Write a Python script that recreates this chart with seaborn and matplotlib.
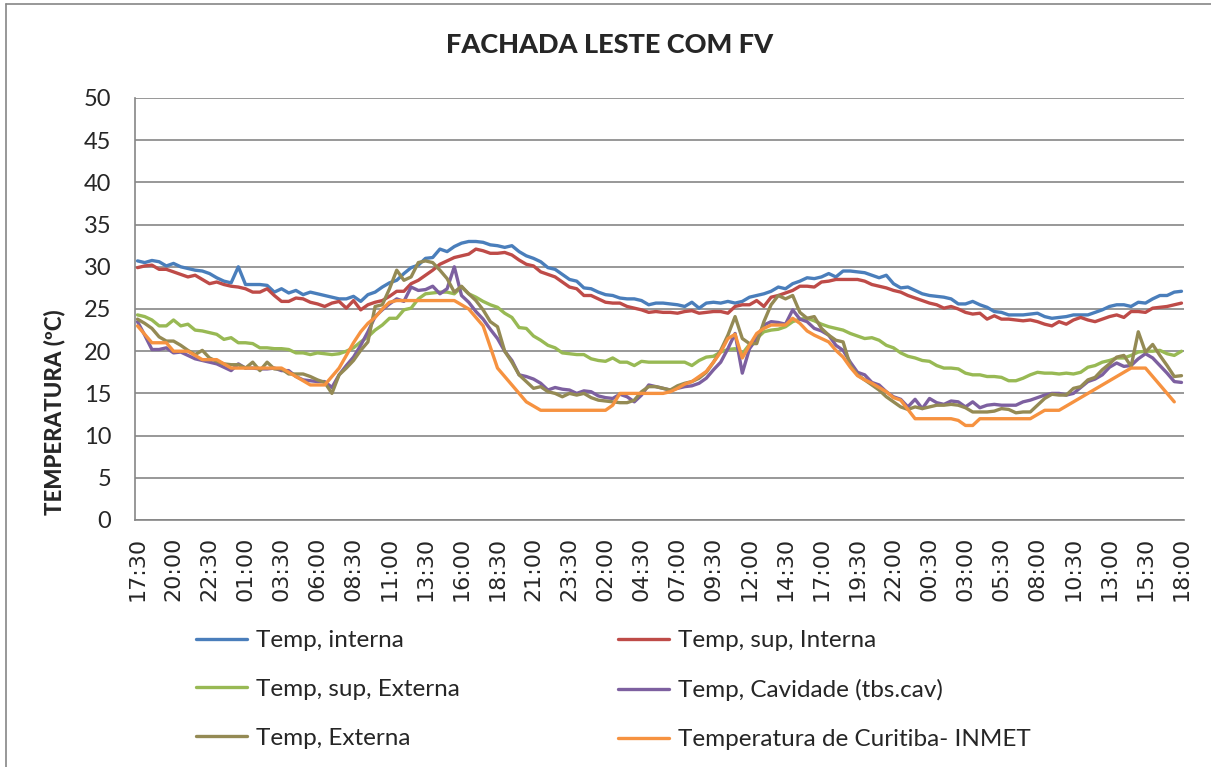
import numpy as np
import pandas as pd
import matplotlib
matplotlib.use('Agg')
import matplotlib.pyplot as plt
import seaborn as sns
from matplotlib.lines import Line2D

# Tick labels (one every 5 half-hour samples)
tick_labels = ['17:30', '20:00', '22:30', '01:00', '03:30', '06:00', '08:30', '11:00', '13:30', '16:00',
               '18:30', '21:00', '23:30', '02:00', '04:30', '07:00', '09:30', '12:00', '14:30', '17:00',
               '19:30', '22:00', '00:30', '03:00', '05:30', '08:00', '10:30', '13:00', '15:30', '18:00']

series_names = ['Temp, interna', 'Temp, sup, Interna', 'Temp, sup, Externa',
                'Temp, Cavidade (tbs.cav)', 'Temp, Externa', 'Temperatura de Curitiba- INMET']

temp_interna = [30.7, 30.5, 30.75, 30.6, 30.1, 30.4, 30.0, 29.8, 29.6, 29.5, 29.2, 28.7, 28.3, 28.1, 30.0, 27.9,
                27.9, 27.9, 27.8, 27.0, 27.4, 26.9, 27.2, 26.7, 27.0, 26.8,
                26.6, 26.4, 26.2, 26.2, 26.5, 25.9, 26.7, 27.0, 27.6, 28.1, 28.4, 29.2, 29.9, 30.2, 31.0, 31.1,
                32.1, 31.8, 32.4, 32.8, 33.0, 33.0, 32.9,
                32.6, 32.5, 32.3, 32.5, 31.8, 31.3, 31.0, 30.6, 29.9, 29.7, 29.1, 28.5, 28.3, 27.5, 27.4, 27.0,
                26.7, 26.6, 26.3, 26.2, 26.2, 26.0, 25.5, 25.7,
                25.7, 25.6, 25.5, 25.3, 25.8, 25.1, 25.7, 25.8, 25.7, 25.9, 25.7, 25.9, 26.4, 26.6, 26.8, 27.1,
                27.6, 27.4, 28.0, 28.3, 28.7, 28.6, 28.8, 29.2,
                28.8, 29.5, 29.5, 29.4, 29.3, 29.0, 28.7, 29.0, 28.0, 27.5, 27.6, 27.2, 26.8, 26.6, 26.5, 26.4,
                26.2, 25.6, 25.6, 25.9, 25.5, 25.2, 24.7, 24.6,
                24.3, 24.3, 24.3, 24.4, 24.5, 24.1, 23.9, 24.0, 24.1, 24.3, 24.3, 24.3, 24.6, 24.9, 25.3, 25.5,
                25.5, 25.3, 25.8, 25.7, 26.2, 26.6, 26.6, 27.0, 27.1]

temp_sup_interna = [29.9, 30.1, 30.2, 29.7, 29.7, 29.4, 29.1, 28.8, 29.0, 28.5, 28.0, 28.2, 27.9, 27.7, 27.6, 27.4,
                    27.0, 27.0, 27.4, 26.6, 25.9, 25.9, 26.3, 26.2, 25.8, 25.6,
                    25.3, 25.7, 25.9, 25.1, 26.0, 24.9, 25.5, 25.8, 26.0, 26.5, 27.1, 27.1, 28.0, 28.4, 29.0, 29.6,
                    30.3, 30.7, 31.1, 31.3, 31.5, 32.1, 31.9,
                    31.6, 31.6, 31.7, 31.4, 30.8, 30.3, 30.1, 29.4, 29.1, 28.8, 28.2, 27.6, 27.4, 26.6, 26.6, 26.2,
                    25.8, 25.7, 25.7, 25.3, 25.1, 24.9, 24.6, 24.7,
                    24.6, 24.6, 24.5, 24.7, 24.8, 24.5, 24.6, 24.7, 24.7, 24.5, 25.3, 25.5, 25.5, 26.0, 25.3, 26.4,
                    26.6, 26.9, 27.2, 27.7, 27.7, 27.6, 28.2, 28.3,
                    28.5, 28.5, 28.5, 28.5, 28.3, 27.9, 27.7, 27.5, 27.2, 27.0, 26.6, 26.3, 26.0, 25.7, 25.5, 25.1,
                    25.3, 25.0, 24.6, 24.4, 24.5, 23.8, 24.2, 23.8,
                    23.8, 23.7, 23.6, 23.7, 23.5, 23.2, 23.0, 23.5, 23.2, 23.7, 24.0, 23.7, 23.5, 23.8, 24.1, 24.3,
                    24.0, 24.7, 24.7, 24.6, 25.1, 25.2, 25.3, 25.5, 25.7]

temp_sup_externa = [24.3, 24.1, 23.7, 23.0, 23.0, 23.7, 23.0, 23.2, 22.5, 22.4, 22.2, 22.0, 21.4, 21.6, 21.0, 21.0,
                    20.9, 20.4, 20.4, 20.3, 20.3, 20.2, 19.8, 19.8, 19.6, 19.8,
                    19.7, 19.6, 19.7, 20.0, 20.4, 21.1, 21.7, 22.5, 23.1, 23.9, 23.9, 24.9, 25.1, 26.2, 26.8, 26.9,
                    27.0, 27.0, 26.8, 27.6, 26.8, 26.4, 25.9,
                    25.5, 25.2, 24.5, 24.0, 22.8, 22.7, 21.8, 21.3, 20.7, 20.4, 19.8, 19.7, 19.6, 19.6, 19.1, 18.9,
                    18.8, 19.2, 18.7, 18.7, 18.3, 18.8, 18.7, 18.7,
                    18.7, 18.7, 18.7, 18.7, 18.3, 18.9, 19.3, 19.4, 19.9, 20.2, 20.3, 19.7, 20.8, 21.5, 22.3, 22.5,
                    22.6, 22.9, 23.5, 23.8, 23.9, 23.6, 23.2, 22.9,
                    22.7, 22.5, 22.1, 21.8, 21.5, 21.6, 21.3, 20.7, 20.4, 19.8, 19.4, 19.2, 18.9, 18.8, 18.3, 18.0,
                    18.0, 17.9, 17.4, 17.2, 17.2, 17.0, 17.0, 16.9,
                    16.5, 16.5, 16.8, 17.2, 17.5, 17.4, 17.4, 17.3, 17.4, 17.3, 17.5, 18.1, 18.3, 18.7, 18.9, 19.2,
                    19.2, 19.5, 19.9, 20.0, 20.0, 20.1, 19.7, 19.5, 20.0]

temp_cavidade = [23.5, 21.9, 20.2, 20.2, 20.4, 19.8, 19.9, 19.5, 19.1, 18.9, 18.7, 18.5, 18.1, 17.7, 18.5, 18.0,
                 18.0, 17.9, 17.9, 18.0, 17.7, 17.7, 17.0, 16.6, 16.5, 16.4,
                 16.4, 15.7, 17.2, 18.3, 19.3, 20.7, 22.3, 24.1, 24.9, 25.6, 26.2, 25.9, 27.6, 27.2, 27.3, 27.7,
                 26.8, 27.4, 30.0, 26.6, 25.8, 24.7, 23.8,
                 22.6, 21.5, 20.0, 18.9, 17.2, 17.0, 16.7, 16.2, 15.4, 15.7, 15.5, 15.4, 15.0, 15.3, 15.2, 14.7,
                 14.5, 14.4, 14.9, 14.6, 14.0, 14.8, 16.0, 15.8,
                 15.6, 15.4, 15.6, 15.8, 15.9, 16.2, 16.8, 17.8, 18.7, 20.3, 22.1, 17.4, 20.3, 21.5, 23.1, 23.5,
                 23.4, 23.2, 24.9, 23.8, 23.5, 22.7, 22.4, 21.9,
                 20.7, 20.1, 18.7, 17.5, 17.2, 16.3, 16.0, 15.2, 14.6, 14.3, 13.4, 14.3, 13.2, 14.4, 13.9, 13.7,
                 14.1, 14.0, 13.4, 14.0, 13.3, 13.6, 13.7, 13.6,
                 13.6, 13.6, 14.0, 14.2, 14.5, 14.8, 15.0, 15.0, 14.8, 15.0, 15.7, 16.4, 16.7, 17.2, 18.1, 18.6,
                 18.2, 18.3, 19.1, 19.7, 19.2, 18.3, 17.4, 16.4, 16.3]

temp_externa = [23.8, 23.3, 22.7, 21.7, 21.2, 21.2, 20.7, 20.1, 19.6, 20.1, 19.2, 18.8, 18.5, 18.4, 18.4, 18.0,
                18.7, 17.7, 18.7, 17.9, 17.9, 17.3, 17.3, 17.3, 17.0, 16.6,
                16.3, 15.0, 17.2, 18.0, 18.9, 20.1, 21.1, 25.3, 25.5, 27.4, 29.6, 28.4, 28.8, 30.5, 30.7, 30.5,
                29.6, 28.6, 27.0, 27.7, 26.8, 26.0, 24.9,
                23.5, 22.9, 20.0, 18.7, 17.2, 16.4, 15.6, 15.8, 15.2, 15.0, 14.6, 15.0, 14.8, 15.0, 14.5, 14.2,
                14.1, 14.0, 13.9, 13.9, 14.2, 15.2, 15.8, 15.8,
                15.6, 15.4, 15.9, 16.2, 16.4, 16.8, 17.5, 18.7, 20.1, 21.9, 24.1, 21.5, 20.9, 20.9, 23.5, 25.5,
                26.6, 26.2, 26.6, 24.6, 23.9, 24.1, 22.7, 21.9,
                21.3, 21.1, 18.3, 17.2, 16.6, 16.0, 15.4, 14.6, 14.0, 13.4, 13.1, 13.4, 13.2, 13.4, 13.6, 13.6,
                13.7, 13.6, 13.3, 12.8, 12.8, 12.8, 12.9, 13.2,
                13.1, 12.7, 12.8, 12.8, 13.6, 14.4, 14.9, 14.8, 14.8, 15.6, 15.8, 16.6, 16.9, 17.8, 18.5, 19.3,
                19.5, 18.2, 22.3, 19.9, 20.8, 19.5, 18.3, 17.0, 17.1]

temp_inmet = [23, 22, 21, 21, 21, 20, 20, 20, 19.5, 19, 19, 19, 18.5, 18, 18, 18,
              18, 18, 18, 18, 18, 17.5, 17, 16.5, 16, 16,
              16, 17, 18, 19.5, 21, 22.3, 23.3, 24, 25, 25.8, 26, 26, 26, 26, 26, 26,
              26, 26, 26, 25.5, 25, 24, 23,
              20.5, 18, 17, 16, 15, 14, 13.5, 13, 13, 13, 13, 13, 13, 13, 13, 13,
              13, 13.6, 15, 15, 15, 15, 15, 15,
              15, 15.2, 15.6, 16.1, 16.4, 17.0, 17.6, 18.7, 19.9, 21.5, 22.0, 19.2, 20.7, 22.1, 22.7, 23.1,
              23.1, 23.1, 23.9, 23.3, 22.4, 21.9, 21.5, 21.1,
              20.1, 19.3, 18.1, 17.1, 16.6, 16.2, 15.7, 15.2, 14.5, 14.2, 13.1, 12, 12, 12, 12, 12,
              12, 11.8, 11.2, 11.2, 12, 12, 12, 12,
              12, 12, 12, 12, 12.5, 13, 13, 13, 13.5, 14, 14.5, 15, 15.5, 16, 16.5, 17,
              17.5, 18, 18, 18, 17, 16, 15, 14, np.nan]

colors = ['#4A7EBB', '#BE4B48', '#98B954', '#7D60A0', '#948A54', '#F69240']
grid_color = '#868686'

# Build a long table for seaborn
n = len(temp_interna)
wide = pd.DataFrame({
    'idx': np.arange(n),
    series_names[0]: temp_interna,
    series_names[1]: temp_sup_interna,
    series_names[2]: temp_sup_externa,
    series_names[3]: temp_cavidade,
    series_names[4]: temp_externa,
    series_names[5]: temp_inmet,
})
df = wide.melt(id_vars='idx', var_name='serie', value_name='temp').dropna()

sns.set_style('white')
plt.rcParams['font.family'] = ['Lato', 'DejaVu Sans']

W, H = 1211, 767
fig = plt.figure(figsize=(W / 100, H / 100), dpi=100)
ax = fig.add_axes([135 / W, 1 - 520 / H, 1049 / W, 422 / H])

sns.lineplot(data=df, x='idx', y='temp', hue='serie', hue_order=series_names,
             palette=dict(zip(series_names, colors)), linewidth=2.4, errorbar=None,
             legend=False, ax=ax)

ax.set_xlim(-0.35, n - 1 + 0.35)
ax.set_ylim(0, 50)
ax.set_yticks(np.arange(0, 51, 5))
ax.set_xticks(np.arange(0, n, 5))
ax.set_xticklabels(tick_labels, rotation=90, fontfamily='DejaVu Sans', fontsize=16)
ax.tick_params(axis='y', labelsize=17, length=0, pad=17)
ax.tick_params(axis='x', length=0, pad=12)
ax.set_xlabel('')
ax.set_ylabel('')

ax.set_axisbelow(True)
ax.yaxis.grid(True, color=grid_color, linewidth=1.2)
ax.xaxis.grid(False)
for side in ['top', 'right']:
    ax.spines[side].set_visible(False)
for side in ['left', 'bottom']:
    ax.spines[side].set_color(grid_color)
    ax.spines[side].set_linewidth(1.2)

fig.text(610 / W, 1 - 45 / H, 'FACHADA LESTE COM FV', ha='center', va='center',
         fontsize=19.5, fontweight='black')
fig.text(54 / W, 1 - 412 / H, 'TEMPERATURA (ºC)', rotation=90, ha='center', va='center',
         fontsize=16, fontweight='black')

# legends: two columns like Excel
handles = [Line2D([], [], color=c, linewidth=2.4) for c in colors]
leg_kw = dict(loc='upper left', frameon=False, fontsize=17.5, handlelength=2.1, handletextpad=0.35,
              labelspacing=1.15, borderpad=0, borderaxespad=0)
fig.legend([handles[i] for i in (0, 2, 4)], [series_names[i] for i in (0, 2, 4)],
           bbox_to_anchor=(196 / W, 1 - 630 / H), **leg_kw)
fig.legend([handles[i] for i in (1, 3, 5)], [series_names[i] for i in (1, 3, 5)],
           bbox_to_anchor=(618 / W, 1 - 630 / H), **leg_kw)

# chart border (top and left visible)
fig.add_artist(Line2D([6 / W, 1], [1 - 4 / H, 1 - 4 / H], color=grid_color, linewidth=1.2))
fig.add_artist(Line2D([6 / W, 6 / W], [0, 1 - 4 / H], color=grid_color, linewidth=1.2))

fig.savefig('out.png', dpi=100)
